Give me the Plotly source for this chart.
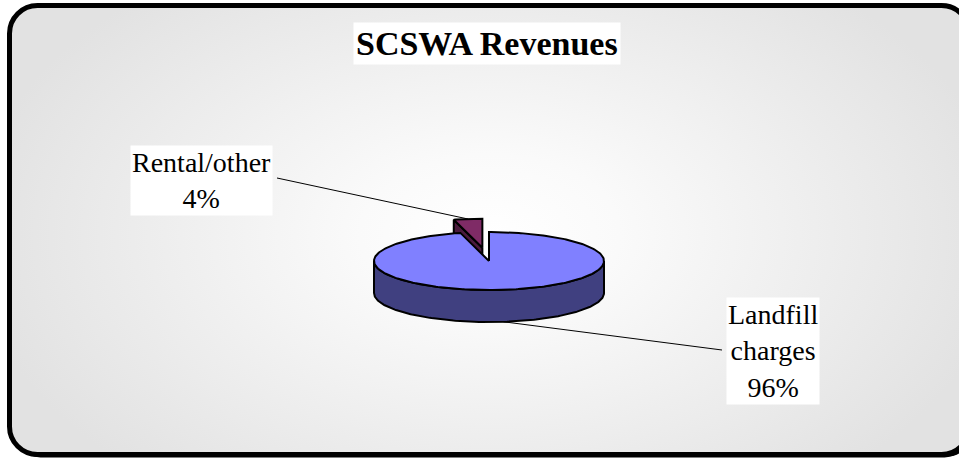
import math
import base64
import plotly.graph_objects as go

# ---------------- data ----------------
categories = ["Landfill charges", "Rental/other"]
values = [96, 4]
label_names = ["Landfill<br>charges", "Rental/other"]
top_colors = ["#8080FF", "#7F2B66"]
side_colors = ["#404080", "#4A1A3C"]
explode = [0.0, 0.46]
title_text = "SCSWA Revenues"

# ---------------- layout constants ----------------
W, H = 959, 458
CX, CY = 489, 261       # pie centre (pixels)
RA, RB = 115, 29        # ellipse semi-axes of top face
DEPTH = 32              # extrusion depth

label_pos = [(773, 351), (201, 180)]   # label box centres
leader_end = [(722, 350), (277, 178)]  # leader line label end

total = float(sum(values))


def pt(theta_deg, ox, oy, dz=0.0, r=1.0):
    t = math.radians(theta_deg)
    return (CX + ox + r * RA * math.sin(t), CY + oy - r * RB * math.cos(t) + dz)


def arc(t0, t1, ox, oy, dz=0.0):
    n = max(2, int(abs(t1 - t0) / 1.0) + 1)
    return [pt(t0 + (t1 - t0) * i / (n - 1), ox, oy, dz) for i in range(n)]


fig = go.Figure()

# slice geometry
slices = []
cum = 0.0
for i, v in enumerate(values):
    ts = 360.0 * cum / total
    te = 360.0 * (cum + v) / total
    cum += v
    bis = (ts + te) / 2
    b = math.radians(bis)
    ox = explode[i] * RA * math.sin(b)
    oy = -explode[i] * RB * math.cos(b)
    slices.append(dict(i=i, ts=ts, te=te, bis=bis, ox=ox, oy=oy))


def add_poly(points, color):
    xs = [p[0] for p in points] + [points[0][0]]
    ys = [p[1] for p in points] + [points[0][1]]
    fig.add_trace(go.Scatter(x=xs, y=ys, mode="lines", fill="toself",
                             fillcolor=color, line=dict(color="black", width=2),
                             hoverinfo="skip", showlegend=False))


# leader lines (drawn first, pie covers their inner ends)
for s in slices:
    i = s["i"]
    if values[i] / total > 0.5:
        inner = pt(s["bis"], s["ox"], s["oy"], dz=DEPTH)
    else:
        inner = pt(s["bis"], s["ox"], s["oy"])
    ex, ey = leader_end[i]
    fig.add_trace(go.Scatter(x=[ex, inner[0]], y=[ey, inner[1]], mode="lines",
                             line=dict(color="black", width=1),
                             hoverinfo="skip", showlegend=False))

# draw slices back to front
for s in sorted(slices, key=lambda s: -math.cos(math.radians(s["bis"]))):
    i, ts, te, ox, oy = s["i"], s["ts"], s["te"], s["ox"], s["oy"]
    # start radial face
    if math.sin(math.radians(ts)) < -1e-6:
        c0 = (CX + ox, CY + oy)
        p0 = pt(ts, ox, oy)
        add_poly([c0, p0, (p0[0], p0[1] + DEPTH), (c0[0], c0[1] + DEPTH)], side_colors[i])
    # end radial face
    if math.sin(math.radians(te)) > 1e-6:
        c0 = (CX + ox, CY + oy)
        p1 = pt(te, ox, oy)
        add_poly([c0, p1, (p1[0], p1[1] + DEPTH), (c0[0], c0[1] + DEPTH)], side_colors[i])
    # outer curved side (front half only)
    a0, a1 = max(ts, 90.0), min(te, 270.0)
    if a1 > a0:
        top = arc(a0, a1, ox, oy)
        bot = arc(a1, a0, ox, oy, dz=DEPTH)
        add_poly(top + bot, side_colors[i])
    # top face
    add_poly([(CX + ox, CY + oy)] + arc(ts, te, ox, oy), top_colors[i])

# labels
for s in slices:
    i = s["i"]
    pct = round(100 * values[i] / total)
    fig.add_annotation(x=label_pos[i][0], y=label_pos[i][1], xref="x", yref="y",
                       text=f"{label_names[i]}<br>{pct}%", showarrow=False,
                       align="center", bgcolor="white", borderpad=1,
                       font=dict(family="Liberation Serif, Times New Roman, serif",
                                 size=28, color="black"))

fig.add_annotation(x=487, y=43, xref="x", yref="y", text=f"<b>{title_text}</b>",
                   showarrow=False, bgcolor="white", borderpad=2,
                   font=dict(family="Liberation Serif, Times New Roman, serif",
                             size=34, color="black"))

# background: radial gradient inside rounded frame with shadow
svg = f'''<svg xmlns="http://www.w3.org/2000/svg" width="{W}" height="{H}" viewBox="0 0 {W} {H}" preserveAspectRatio="none">
<defs><radialGradient id="g" gradientUnits="userSpaceOnUse" cx="490" cy="235" r="520" gradientTransform="translate(490 235) scale(1 0.62) translate(-490 -235)">
<stop offset="0" stop-color="#FFFFFF"/><stop offset="0.25" stop-color="#FAFAFA"/><stop offset="1" stop-color="#E2E2E2"/></radialGradient></defs>
<rect x="12.5" y="8.5" width="960" height="449" rx="28" ry="28" fill="black"/>
<rect x="9.5" y="5.5" width="960" height="449" rx="28" ry="28" fill="url(#g)" stroke="black" stroke-width="5"/>
</svg>'''
src = "data:image/svg+xml;base64," + base64.b64encode(svg.encode()).decode()
fig.add_layout_image(source=src, xref="paper", yref="paper", x=0, y=1,
                     sizex=1, sizey=1, sizing="stretch", xanchor="left",
                     yanchor="top", layer="below")

fig.update_layout(
    width=W, height=H, margin=dict(l=0, r=0, t=0, b=0),
    paper_bgcolor="white", plot_bgcolor="rgba(0,0,0,0)",
    xaxis=dict(range=[0, W], visible=False, fixedrange=True),
    yaxis=dict(range=[H, 0], visible=False, fixedrange=True),
    showlegend=False,
)

fig.write_html("out.html", config={"displayModeBar": False},
               post_script="document.body.style.margin='0px';document.body.style.overflow='hidden';")
